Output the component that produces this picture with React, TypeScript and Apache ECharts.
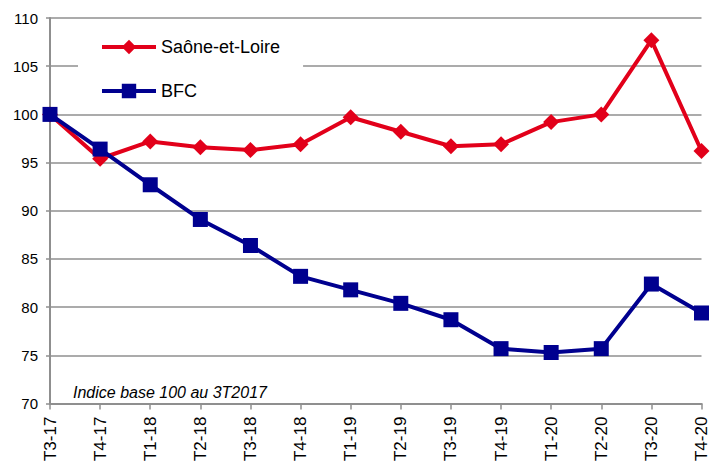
import React, { useEffect, useRef } from "react";
import * as echarts from "echarts";

const categories = ["T3-17","T4-17","T1-18","T2-18","T3-18","T4-18","T1-19","T2-19","T3-19","T4-19","T1-20","T2-20","T3-20","T4-20"];
const saoneEtLoire = [100, 95.4, 97.2, 96.6, 96.3, 96.9, 99.7, 98.2, 96.7, 96.9, 99.2, 100.0, 107.7, 96.2];
const bfc = [100, 96.4, 92.7, 89.1, 86.4, 83.2, 81.8, 80.4, 78.7, 75.7, 75.3, 75.7, 82.4, 79.4];
const seriesNames = ["Saône-et-Loire", "BFC"];
const note = "Indice base 100 au 3T2017";

const RED = "#E2001A";
const BLUE = "#00008F";
const GRID = "#8f8f8f";
const FONT = "Liberation Sans, Arial, sans-serif";

export default function App() {
  const ref = useRef<HTMLDivElement>(null);
  useEffect(() => {
    document.body.style.margin = "0";
    const chart = echarts.init(ref.current!, undefined, { renderer: "svg" });
    chart.setOption({
      animation: false,
      textStyle: { fontFamily: FONT },
      grid: { left: 50, right: 8, top: 18, bottom: 59, containLabel: false },
      legend: {
        orient: "vertical",
        left: 78,
        top: 28,
        padding: [10, 23, 10, 22],
        backgroundColor: "#ffffff",
        itemWidth: 54,
        itemHeight: 18,
        itemGap: 26,
        lineStyle: { width: 4 },
        textStyle: { fontSize: 18, color: "#000", fontFamily: FONT },
        data: seriesNames,
      },
      xAxis: {
        type: "category",
        data: categories,
        boundaryGap: false,
        axisLine: { lineStyle: { color: GRID, width: 2 } },
        axisTick: { show: true, length: 6, alignWithLabel: true, lineStyle: { color: GRID, width: 1.5 } },
        axisLabel: { rotate: 90, fontSize: 17, color: "#000", margin: 13, interval: 0, fontFamily: FONT },
      },
      yAxis: {
        type: "value",
        min: 70,
        max: 110,
        interval: 5,
        axisLine: { show: true, lineStyle: { color: GRID, width: 2 } },
        axisTick: { show: true, length: 4, lineStyle: { color: GRID, width: 1.5 } },
        axisLabel: { fontSize: 15, color: "#000", margin: 12, fontFamily: FONT },
        splitLine: { show: true, lineStyle: { color: GRID, width: 1.5 } },
      },
      graphic: [
        {
          type: "text",
          left: 73,
          top: 384,
          style: { text: note, font: "italic 16px " + FONT, fill: "#000" },
        },
      ],
      series: [
        {
          name: seriesNames[0],
          type: "line",
          data: saoneEtLoire,
          symbol: "diamond",
          symbolSize: 16,
          lineStyle: { color: RED, width: 4 },
          itemStyle: { color: RED },
          z: 3,
        },
        {
          name: seriesNames[1],
          type: "line",
          data: bfc,
          symbol: "rect",
          symbolSize: 15,
          lineStyle: { color: BLUE, width: 4 },
          itemStyle: { color: BLUE },
          z: 4,
        },
      ],
    });
    return () => chart.dispose();
  }, []);
  return <div ref={ref} style={{ width: 710, height: 464 }} />;
}
